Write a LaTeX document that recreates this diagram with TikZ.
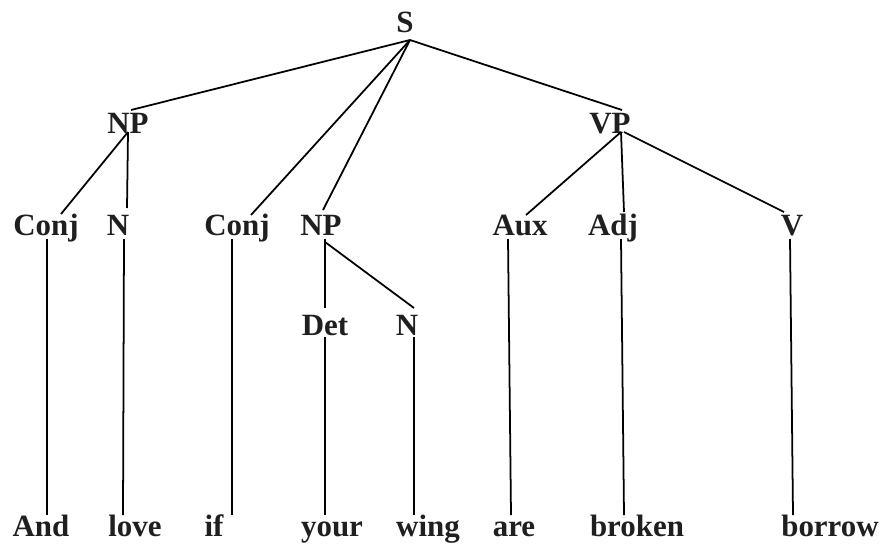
\documentclass[tikz,border=0pt]{standalone}
\usepackage{fontspec}
\setmainfont{Liberation Serif}
\usepackage{tikz}

\begin{document}
\begin{tikzpicture}[
  x=0.025cm, y=-0.025cm,
  font=\fontsize{22}{26}\selectfont\bfseries,
  lbl/.style={anchor=base, inner sep=0pt, text=black!88},
  br/.style={draw=black, line width=1.25pt}]
  \useasboundingbox (0,0) rectangle (885,545);
  % phrase level
  \node[lbl] (s)     at (405, 33)  {S};
  \node[lbl] (np)    at (128, 133) {NP};
  \node[lbl] (vp)    at (610, 133) {VP};
  \node[lbl] (conjA) at (46, 235)  {Conj};
  \node[lbl] (n)     at (118, 235) {N};
  \node[lbl] (conjB) at (237, 235) {Conj};
  \node[lbl] (npB)   at (321, 235) {NP};
  \node[lbl] (aux)   at (520, 235) {Aux};
  \node[lbl] (adj)   at (613, 235) {Adj};
  \node[lbl] (v)     at (792, 235) {V};
  \node[lbl] (det)   at (325, 335) {Det};
  \node[lbl] (nB)    at (407, 335) {N};
  % words
  \node[lbl] (and)    at (41, 536)  {And};
  \node[lbl] (love)   at (135, 536) {love};
  \node[lbl] (if)     at (214, 536) {if};
  \node[lbl] (your)   at (332, 536) {your};
  \node[lbl] (wing)   at (428, 536) {wing};
  \node[lbl] (are)    at (514, 536) {are};
  \node[lbl] (broken) at (637, 536) {broken};
  \node[lbl] (borrow) at (830, 536) {borrow};
  % branches
  \draw[br] ([shift={(5,7)}]s.base) -- ([shift={(3,-23)}]np.base);
  \draw[br] ([shift={(5,7)}]s.base) -- ([shift={(14,-20)}]conjB.base);
  \draw[br] ([shift={(5,7)}]s.base) -- ([shift={(2,-25)}]npB.base);
  \draw[br] ([shift={(5,7)}]s.base) -- ([shift={(12,-23)}]vp.base);
  \draw[br] ([shift={(0,-1)}]np.base) -- ([shift={(15,-21)}]conjA.base);
  \draw[br] ([shift={(0,-1)}]np.base) -- ([shift={(9,-27)}]n.base);
  \draw[br] ([shift={(11,-1)}]vp.base) -- ([shift={(6,-20)}]aux.base);
  \draw[br] ([shift={(11,-1)}]vp.base) -- ([shift={(11,-23)}]adj.base);
  \draw[br] ([shift={(14,-1)}]vp.base) -- ([shift={(-8,-23)}]v.base);
  \draw[br] ([shift={(4,4)}]npB.base) -- ([shift={(0,-27)}]det.base);
  \draw[br] ([shift={(4,7)}]npB.base) -- ([shift={(7,-27)}]nB.base);
  % to the words
  \draw[br] ([shift={(1,4)}]conjA.base) -- ([shift={(6,-21)}]and.base);
  \draw[br] ([shift={(6,4)}]n.base) -- ([shift={(-12,-21)}]love.base);
  \draw[br] ([shift={(-5,4)}]conjB.base) -- ([shift={(18,-21)}]if.base);
  \draw[br] ([shift={(0,2)}]det.base) -- ([shift={(-7,-21)}]your.base);
  \draw[br] ([shift={(7,2)}]nB.base) -- ([shift={(-14,-21)}]wing.base);
  \draw[br] ([shift={(-12,4)}]aux.base) -- ([shift={(-3,-21)}]are.base);
  \draw[br] ([shift={(8,4)}]adj.base) -- ([shift={(-13,-21)}]broken.base);
  \draw[br] ([shift={(-2,4)}]v.base) -- ([shift={(-37,-21)}]borrow.base);
\end{tikzpicture}
\end{document}
